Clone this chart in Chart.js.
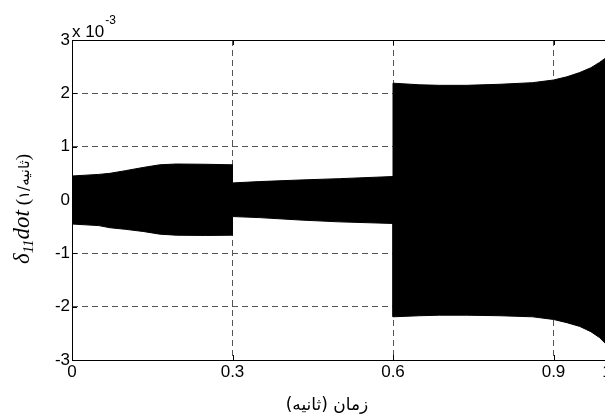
<!DOCTYPE html>
<html><head><meta charset="utf-8">
<script src="https://cdn.jsdelivr.net/npm/chart.js@4.4.0/dist/chart.umd.min.js"></script>
<style>
html,body{margin:0;padding:0;background:#fff;overflow:hidden;width:605px;height:416px}
#wrap{position:absolute;left:0;top:0;width:625px;height:416px}
</style>
</head><body><div id="wrap"><canvas id="c" width="625" height="416"></canvas></div>
<script>
// time (s)
const time = [0, 0.05, 0.071, 0.1, 0.133, 0.164, 0.195, 0.25, 0.3, 0.3, 0.35, 0.426, 0.5, 0.6, 0.6, 0.65, 0.687, 0.737, 0.8, 0.861, 0.9, 0.925, 0.949, 0.97, 0.986, 1.0];
// upper / lower envelope of the oscillation (x 10^-3)
const upperEnv = [0.45, 0.48, 0.50, 0.55, 0.61, 0.66, 0.675, 0.67, 0.66, 0.32, 0.345, 0.375, 0.40, 0.44, 2.19, 2.16, 2.15, 2.15, 2.17, 2.20, 2.25, 2.31, 2.39, 2.48, 2.58, 2.68];
const lowerEnv = [-0.45, -0.48, -0.52, -0.55, -0.59, -0.64, -0.66, -0.665, -0.66, -0.31, -0.33, -0.375, -0.41, -0.44, -2.19, -2.17, -2.16, -2.16, -2.17, -2.19, -2.24, -2.30, -2.37, -2.47, -2.58, -2.72];
const xTickValues = [0, 0.3, 0.6, 0.9, 1];
const xTickLabels = ['0', '0.3', '0.6', '0.9', '1'];
const yTickValues = [-3, -2, -1, 0, 1, 2, 3];
const yTickLabels = ['-3', '-2', '-1', '0', '1', '2', '3'];
const exponentText = ['x 10', '-3'];
const xTitle = 'زمان (ثانیه)';
const yTitleParts = ['δ', '11', 'dot', ' (', '۱/', 'ثانیه', ')'];

const pts = arr => time.map((t, i) => ({x: t, y: arr[i]}));
const gridColor = '#555';

const decor = {
  id: 'decor',
  afterDraw(chart) {
    const ctx = chart.ctx, a = chart.chartArea;
    const xs = chart.scales.x, ys = chart.scales.y;
    ctx.save();
    ctx.strokeStyle = '#000';
    ctx.lineWidth = 1;
    ctx.strokeRect(a.left + 0.5, a.top + 0.5, a.right - a.left, a.bottom - a.top);
    // inward ticks
    ctx.beginPath();
    xTickValues.forEach(v => {
      const p = Math.round(xs.getPixelForValue(v)) + 0.5;
      ctx.moveTo(p, a.bottom); ctx.lineTo(p, a.bottom - 5);
      ctx.moveTo(p, a.top); ctx.lineTo(p, a.top + 5);
    });
    yTickValues.forEach(v => {
      const p = Math.round(ys.getPixelForValue(v)) + 0.5;
      ctx.moveTo(a.left, p); ctx.lineTo(a.left + 5, p);
      ctx.moveTo(a.right, p); ctx.lineTo(a.right - 5, p);
    });
    ctx.stroke();
    ctx.fillStyle = '#000';
    // exponent
    ctx.textAlign = 'left';
    ctx.textBaseline = 'alphabetic';
    ctx.font = '17px "Liberation Sans", Arial, sans-serif';
    ctx.fillText(exponentText[0], a.left, a.top - 3);
    const w = ctx.measureText(exponentText[0]).width;
    ctx.font = '12px "Liberation Sans", Arial, sans-serif';
    ctx.fillText(exponentText[1], a.left + w + 1, a.top - 16);
    // x title
    ctx.save();
    ctx.direction = 'rtl';
    ctx.textAlign = 'center';
    ctx.font = '17px "DejaVu Sans", sans-serif';
    ctx.fillText(xTitle, 327, 410);
    ctx.restore();
    // y title
    const fonts = [
      'italic 23px "Liberation Serif", serif',
      'italic 15px "Liberation Serif", serif',
      'italic 23px "Liberation Serif", serif',
      '19px "Liberation Serif", serif',
      '15px "DejaVu Sans", sans-serif',
      '15px "DejaVu Sans", sans-serif',
      '19px "Liberation Serif", serif'
    ];
    const dys = [0, 4, 0, 0, 0, 0, 0];
    let total = 0;
    const widths = yTitleParts.map((t, i) => { ctx.font = fonts[i]; const m = ctx.measureText(t).width; total += m; return m; });
    ctx.translate(29, 209);
    ctx.rotate(-Math.PI / 2);
    let x = -total / 2;
    yTitleParts.forEach((t, i) => {
      ctx.font = fonts[i];
      ctx.fillText(t, x, dys[i]);
      x += widths[i];
    });
    ctx.restore();
  }
};

new Chart(document.getElementById('c'), {
  type: 'line',
  data: {
    datasets: [
      {data: pts(upperEnv), borderColor: '#000', backgroundColor: '#000', borderWidth: 1, fill: 'origin', pointRadius: 0, tension: 0},
      {data: pts(lowerEnv), borderColor: '#000', backgroundColor: '#000', borderWidth: 1, fill: 'origin', pointRadius: 0, tension: 0}
    ]
  },
  options: {
    responsive: false,
    animation: false,
    devicePixelRatio: 1,
    layout: {padding: {left: 0, top: 40, right: 18, bottom: 0}},
    plugins: {legend: {display: false}, tooltip: {enabled: false}},
    scales: {
      x: {
        type: 'linear', min: 0, max: 1,
        afterBuildTicks: s => { s.ticks = xTickValues.map(v => ({value: v})); },
        afterFit: s => { s.height = 56; },
        ticks: {
          callback: (v, i) => xTickLabels[i],
          font: {family: '"Liberation Sans", Arial, sans-serif', size: 17},
          color: '#000', padding: 2, maxRotation: 0, autoSkip: false
        },
        grid: {
          drawTicks: false, lineWidth: 1,
          color: c => (c.tick && c.tick.value > 0 && c.tick.value < 1) ? gridColor : 'rgba(0,0,0,0)'
        },
        border: {display: false, dash: [6, 4]}
      },
      y: {
        type: 'linear', min: -3, max: 3,
        afterBuildTicks: s => { s.ticks = yTickValues.map(v => ({value: v})); },
        afterFit: s => { s.width = 72; },
        ticks: {
          callback: (v, i) => yTickLabels[i],
          font: {family: '"Liberation Sans", Arial, sans-serif', size: 17},
          color: '#000', padding: 2
        },
        grid: {
          drawTicks: false, lineWidth: 1,
          color: c => (c.tick && c.tick.value > -3 && c.tick.value < 3) ? gridColor : 'rgba(0,0,0,0)'
        },
        border: {display: false, dash: [6, 4]}
      }
    }
  },
  plugins: [decor]
});
</script>
</body></html>
